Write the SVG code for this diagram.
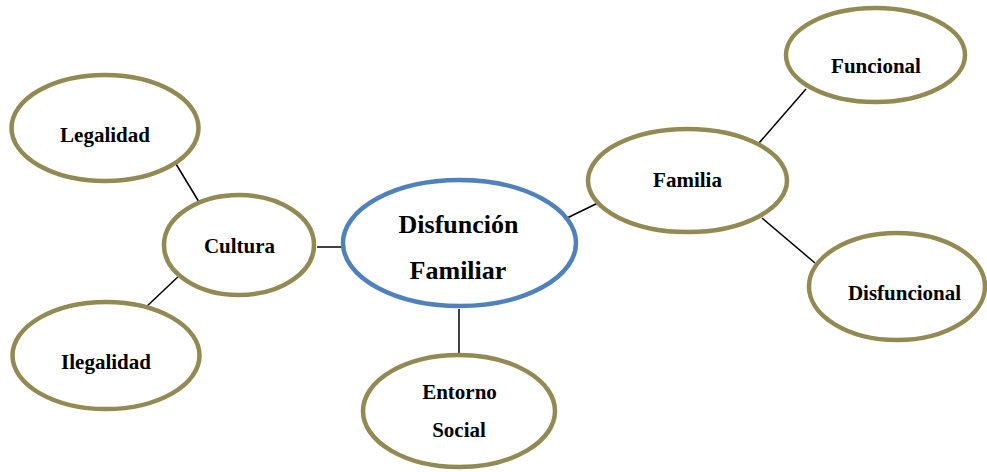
<svg xmlns="http://www.w3.org/2000/svg" width="987" height="472" viewBox="0 0 987 472">
<style>
.n{fill:#fff;stroke:#938953;stroke-width:4.5}
.c{fill:#fff;stroke:#4F81BD;stroke-width:4.5}
.t{font-family:"Liberation Serif","Times New Roman",serif;font-weight:bold;font-size:21px;fill:#000;text-anchor:middle}
.tb{font-size:26px}
.l{stroke:#000;stroke-width:1.5;fill:none}
</style>
<rect width="987" height="472" fill="#fff"/>
<g id="connectors">
<line class="l" x1="176" y1="164" x2="199" y2="202"/>
<line class="l" x1="182" y1="273" x2="144" y2="309"/>
<line class="l" x1="317" y1="247" x2="342" y2="247"/>
<line class="l" x1="459" y1="309" x2="459" y2="354"/>
<line class="l" x1="565" y1="219" x2="600" y2="202"/>
<line class="l" x1="759" y1="143" x2="806" y2="89"/>
<line class="l" x1="762" y1="218" x2="815" y2="263"/>
</g>
<g id="legalidad">
<ellipse class="n" cx="105" cy="128" rx="93.5" ry="53"/>
<text class="t" x="105" y="142">Legalidad</text>
</g>
<g id="ilegalidad">
<ellipse class="n" cx="106" cy="355.5" rx="93.5" ry="53.5"/>
<text class="t" x="106" y="369">Ilegalidad</text>
</g>
<g id="cultura">
<ellipse class="n" cx="239" cy="245" rx="75" ry="50"/>
<text class="t" x="239.5" y="253">Cultura</text>
</g>
<g id="disfuncion-familiar">
<ellipse class="c" cx="459.5" cy="243" rx="116.5" ry="63"/>
<text class="t tb" x="458.5" y="233">Disfunción</text>
<text class="t tb" x="458" y="279">Familiar</text>
</g>
<g id="entorno-social">
<ellipse class="n" cx="459" cy="411" rx="96" ry="56"/>
<text class="t" x="459.5" y="399">Entorno</text>
<text class="t" x="459" y="437">Social</text>
</g>
<g id="familia">
<ellipse class="n" cx="687.5" cy="180.5" rx="99.5" ry="51.5"/>
<text class="t" x="687.5" y="187">Familia</text>
</g>
<g id="funcional">
<ellipse class="n" cx="875.5" cy="55" rx="89.5" ry="47"/>
<text class="t" x="876" y="73">Funcional</text>
</g>
<g id="disfuncional">
<ellipse class="n" cx="897" cy="286.5" rx="88" ry="53.5"/>
<text class="t" x="904.5" y="300">Disfuncional</text>
</g>
</svg>
